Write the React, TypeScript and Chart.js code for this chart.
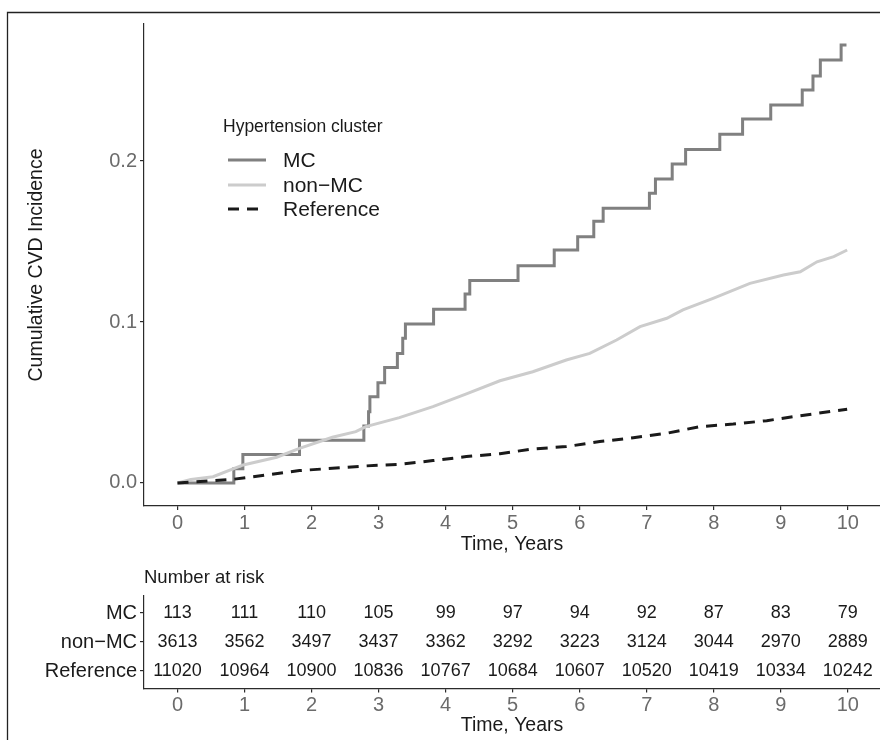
import React, { useEffect, useRef } from "react";
import { Chart, registerables } from "chart.js";
Chart.register(...registerables);

const FONT = '"Liberation Sans", Arial, Helvetica, sans-serif';
const TICK_GRAY = "#6b6b6b";
const DARK = "#1a1a1a";
const AXIS = "#2b2b2b";

// Cumulative incidence
const mcTimes = [0, 0.84, 0.975, 1.82, 2.78, 2.85, 2.87, 2.99, 3.09, 3.28, 3.36, 3.4, 3.82, 4.29, 4.36, 5.08, 5.62, 5.97, 6.21, 6.35, 7.04, 7.13, 7.38, 7.58, 8.09, 8.43, 8.85, 9.32, 9.48, 9.59, 9.9, 9.98];
const mcValues = [0, 0.0088, 0.0177, 0.0265, 0.0354, 0.0443, 0.0536, 0.0623, 0.0718, 0.0805, 0.0899, 0.0988, 0.1079, 0.1174, 0.1257, 0.135, 0.1447, 0.153, 0.1626, 0.1706, 0.18, 0.1888, 0.1981, 0.2072, 0.2166, 0.2261, 0.2348, 0.2441, 0.2528, 0.2627, 0.272, 0.272];

const nonMcTimes = [0, 0.2, 0.53, 0.98, 1.48, 1.82, 2.31, 2.66, 2.81, 3.31, 3.81, 4.31, 4.81, 5.3, 5.8, 6.15, 6.55, 6.9, 7.3, 7.54, 7.99, 8.54, 9.04, 9.29, 9.54, 9.79, 9.99];
const nonMcValues = [0, 0.0022, 0.0039, 0.0112, 0.016, 0.0215, 0.0284, 0.0319, 0.035, 0.0406, 0.0474, 0.0553, 0.0635, 0.0691, 0.0764, 0.0805, 0.0888, 0.0971, 0.1023, 0.1075, 0.1147, 0.124, 0.1292, 0.1312, 0.1374, 0.1406, 0.1447];

const refTimes = [0, 0.83, 1.33, 1.82, 2.31, 2.81, 3.31, 3.81, 4.31, 4.81, 5.3, 5.8, 6.3, 6.8, 7.3, 7.79, 8.29, 8.79, 9.29, 9.99];
const refValues = [0, 0.0023, 0.005, 0.0077, 0.0091, 0.0106, 0.0116, 0.0139, 0.0164, 0.0182, 0.0211, 0.0226, 0.0257, 0.0281, 0.0309, 0.035, 0.0366, 0.0387, 0.0418, 0.0458];

// Axes
const xTicks = [0, 1, 2, 3, 4, 5, 6, 7, 8, 9, 10];
const yTicks = [0, 0.1, 0.2];

// Risk table
const rowLabels = ["MC", "non\u2212MC", "Reference"];
const riskTimes = [0, 1, 2, 3, 4, 5, 6, 7, 8, 9, 10];
const mcRisk = [113, 111, 110, 105, 99, 97, 94, 92, 87, 83, 79];
const nonMcRisk = [3613, 3562, 3497, 3437, 3362, 3292, 3223, 3124, 3044, 2970, 2889];
const refRisk = [11020, 10964, 10900, 10836, 10767, 10684, 10607, 10520, 10419, 10334, 10242];

const legendTitle = "Hypertension cluster";
const xTitle = "Time, Years";
const yTitle = "Cumulative CVD Incidence";
const tableTitle = "Number at risk";

const toPoints = (xs: number[], ys: number[]) => xs.map((x, i) => ({ x, y: ys[i] }));

const xScaleBase = (height: number) => ({
  type: "linear" as const,
  min: -0.5,
  max: 10.48,
  afterBuildTicks: (s: any) => {
    s.ticks = xTicks.map((v) => ({ value: v }));
  },
  ticks: {
    color: TICK_GRAY,
    font: { family: FONT, size: 20 },
    padding: 1,
    maxRotation: 0,
    autoSkip: false,
    callback: (v: any) => String(v),
  },
  grid: { display: true, drawOnChartArea: false, drawTicks: true, tickLength: 4, color: AXIS, lineWidth: 1.2 },
  border: { display: true, color: AXIS, width: 1.2 },
  afterFit: (s: any) => {
    s.height = height;
    s.paddingLeft = 0;
    s.paddingRight = 0;
  },
});

export default function App() {
  const mainRef = useRef<HTMLCanvasElement | null>(null);
  const tableRef = useRef<HTMLCanvasElement | null>(null);

  useEffect(() => {
    if (!mainRef.current || !tableRef.current) return;

    const mainPlugin = {
      id: "mainDecor",
      beforeDraw(chart: any) {
        const { ctx } = chart;
        ctx.save();
        ctx.strokeStyle = "#222";
        ctx.lineWidth = 1.3;
        ctx.beginPath();
        ctx.moveTo(7.5, 740);
        ctx.lineTo(7.5, 12.5);
        ctx.lineTo(880, 12.5);
        ctx.stroke();
        ctx.restore();
      },
      afterDraw(chart: any) {
        const { ctx, chartArea } = chart;
        ctx.save();
        ctx.fillStyle = DARK;
        ctx.font = `19.5px ${FONT}`;
        ctx.textAlign = "center";
        ctx.textBaseline = "middle";
        ctx.fillText(xTitle, (chartArea.left + chartArea.right) / 2, chartArea.bottom + 39);
        ctx.save();
        ctx.translate(37, (chartArea.top + chartArea.bottom) / 2);
        ctx.rotate(-Math.PI / 2);
        ctx.fillText(yTitle, 0, 0);
        ctx.restore();

        // legend
        ctx.textAlign = "left";
        ctx.font = `17.5px ${FONT}`;
        ctx.fillText(legendTitle, 223, 127);
        const ys = [160, 185, 209];
        ctx.font = `21px ${FONT}`;
        chart.data.datasets.forEach((ds: any, i: number) => {
          ctx.save();
          ctx.strokeStyle = ds.borderColor;
          ctx.lineWidth = 3;
          ctx.lineCap = "butt";
          ctx.setLineDash(ds.borderDash || []);
          ctx.beginPath();
          ctx.moveTo(228, ys[i]);
          ctx.lineTo(266, ys[i]);
          ctx.stroke();
          ctx.restore();
          ctx.fillStyle = DARK;
          ctx.fillText(ds.label, 283, ys[i] + 1);
        });
        ctx.restore();
      },
    };

    const main = new Chart(mainRef.current, {
      type: "line",
      data: {
        datasets: [
          { label: "MC", data: toPoints(mcTimes, mcValues), borderColor: "#808080", borderWidth: 3, stepped: true, pointRadius: 0, fill: false, order: 2 },
          { label: "non\u2212MC", data: toPoints(nonMcTimes, nonMcValues), borderColor: "#cccccc", borderWidth: 3, pointRadius: 0, fill: false, tension: 0, order: 1 },
          { label: "Reference", data: toPoints(refTimes, refValues), borderColor: DARK, borderWidth: 3, borderDash: [11, 8], pointRadius: 0, fill: false, tension: 0, order: 0 },
        ],
      },
      options: {
        responsive: false,
        maintainAspectRatio: false,
        animation: false,
        events: [],
        layout: { padding: { top: 24, left: 0, right: 0, bottom: 184 } },
        plugins: { legend: { display: false }, tooltip: { enabled: false }, title: { display: false } },
        scales: {
          x: xScaleBase(50) as any,
          y: {
            type: "linear",
            min: -0.0143,
            max: 0.2851,
            afterBuildTicks: (s: any) => {
              s.ticks = yTicks.map((v) => ({ value: v }));
            },
            ticks: {
              color: TICK_GRAY,
              font: { family: FONT, size: 20 },
              padding: 3,
              callback: (v: any) => Number(v).toFixed(1),
            },
            grid: { display: true, drawOnChartArea: false, drawTicks: true, tickLength: 4, color: AXIS, lineWidth: 1.2 },
            border: { display: true, color: AXIS, width: 1.2 },
            afterFit: (s: any) => {
              s.width = 144;
              s.paddingTop = 0;
              s.paddingBottom = 0;
            },
          },
        },
      },
      plugins: [mainPlugin],
    });

    const riskRows = [mcRisk, nonMcRisk, refRisk];
    const tablePlugin = {
      id: "tableDecor",
      afterDraw(chart: any) {
        const { ctx, chartArea, scales } = chart;
        ctx.save();
        ctx.fillStyle = DARK;
        ctx.font = `18px ${FONT}`;
        ctx.textBaseline = "middle";
        ctx.textAlign = "center";
        riskRows.forEach((row, r) => {
          row.forEach((n, i) => {
            ctx.fillText(String(n), scales.x.getPixelForValue(riskTimes[i]), scales.y.getPixelForValue(r + 1));
          });
        });
        ctx.font = `19.5px ${FONT}`;
        ctx.fillText(xTitle, (chartArea.left + chartArea.right) / 2, chartArea.bottom + 37);
        ctx.textAlign = "left";
        ctx.font = `18.5px ${FONT}`;
        ctx.fillText(tableTitle, chartArea.left, chartArea.top - 18);
        ctx.restore();
      },
    };

    const table = new Chart(tableRef.current, {
      type: "scatter",
      data: {
        datasets: riskRows.map((row, r) => ({
          label: rowLabels[r],
          data: riskTimes.map((t) => ({ x: t, y: r + 1 })),
          pointRadius: 0,
          showLine: false,
        })),
      },
      options: {
        responsive: false,
        maintainAspectRatio: false,
        animation: false,
        events: [],
        layout: { padding: { top: 595.6, left: 0, right: 0, bottom: 11.6 } },
        plugins: { legend: { display: false }, tooltip: { enabled: false }, title: { display: false } },
        scales: {
          x: xScaleBase(40) as any,
          y: {
            type: "linear",
            reverse: true,
            min: 0.4,
            max: 3.6,
            afterBuildTicks: (s: any) => {
              s.ticks = [1, 2, 3].map((v) => ({ value: v }));
            },
            ticks: {
              color: DARK,
              font: { family: FONT, size: 20 },
              padding: 3,
              callback: (v: any) => rowLabels[Math.round(Number(v)) - 1],
            },
            grid: { display: true, drawOnChartArea: false, drawTicks: true, tickLength: 4, color: AXIS, lineWidth: 1.2 },
            border: { display: true, color: AXIS, width: 1.2 },
            afterFit: (s: any) => {
              s.width = 144;
              s.paddingTop = 0;
              s.paddingBottom = 0;
            },
          },
        },
      },
      plugins: [tablePlugin],
    });

    return () => {
      main.destroy();
      table.destroy();
    };
  }, []);

  const canvasStyle: React.CSSProperties = { position: "absolute", left: 0, top: 0, width: 880, height: 740 };
  return (
    <div style={{ position: "absolute", left: 0, top: 0, width: 880, height: 740, background: "#fff", overflow: "hidden" }}>
      <canvas ref={mainRef} width={880} height={740} style={canvasStyle} />
      <canvas ref={tableRef} width={880} height={740} style={canvasStyle} />
    </div>
  );
}
